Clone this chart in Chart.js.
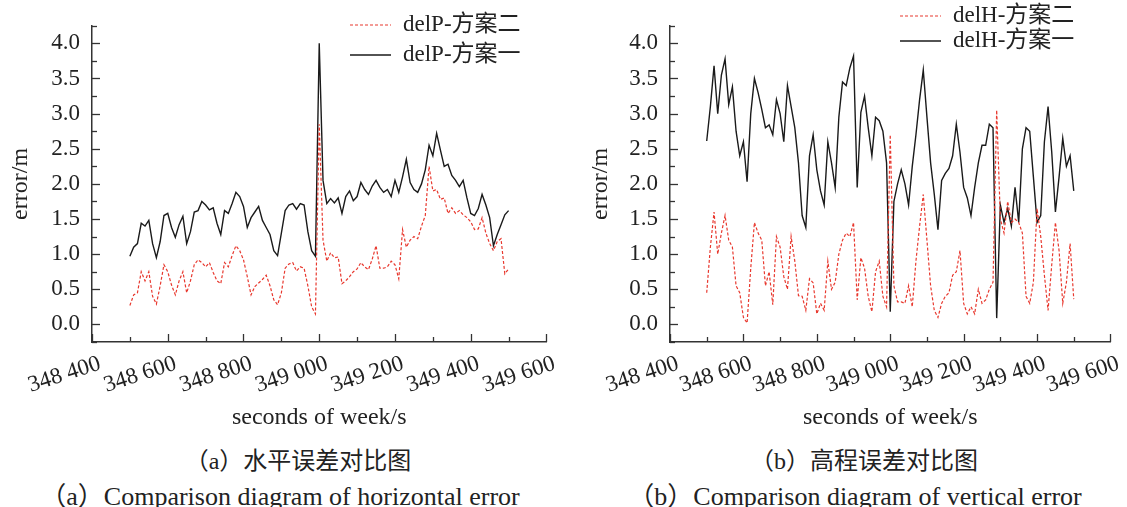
<!DOCTYPE html>
<html lang="zh">
<head>
  <meta charset="UTF-8" />
  <title>水平误差与高程误差对比图</title>
  <style>
    body { margin: 0; width: 1127px; height: 507px; background: #fff; position: relative; overflow: hidden;
           font-family: 'Liberation Serif', 'Noto Sans CJK SC', serif; color: #222; }
    canvas { position: absolute; top: 0; }
    #chartA { left: 0; }
    #chartB { left: 563px; }
    .cap { position: absolute; white-space: nowrap; transform: translate(-50%, -50%); }
    .zh { font-size: 24px; }
    .en { font-size: 26px; }
  </style>
</head>
<body>

<canvas id="chartA" width="563" height="432"></canvas>
<canvas id="chartB" width="564" height="432"></canvas>

<div class="cap zh" style="left:298px; top:458px;">（a）水平误差对比图</div>
<div class="cap en" style="left:280px; top:493px;">（a）Comparison diagram of horizontal error</div>
<div class="cap zh" style="left:864px; top:458px;">（b）高程误差对比图</div>
<div class="cap en" style="left:855px; top:493px;">（b）Comparison diagram of vertical error</div>

<script src="https://cdn.jsdelivr.net/npm/chart.js"></script>
<script>
// seconds of week, one sample every 10 s
const seconds = [];
for (let t = 348500; t <= 349500; t += 10) seconds.push(t);

// (a) horizontal error
const delP_scheme2 = [
  0.27, 0.42, 0.45, 0.75, 0.62, 0.75, 0.40, 0.29, 0.55, 0.85,
  0.75, 0.56, 0.42, 0.62, 0.75, 0.45, 0.62, 0.85, 0.92, 0.88,
  0.82, 0.88, 0.74, 0.62, 0.58, 0.88, 0.82, 0.98, 1.12, 1.05,
  0.92, 0.68, 0.42, 0.54, 0.59, 0.64, 0.70, 0.55, 0.35, 0.28,
  0.45, 0.80, 0.86, 0.88, 0.76, 0.82, 0.80, 0.55, 0.25, 0.15,
  2.85, 1.20, 0.90, 1.02, 0.95, 0.96, 0.58, 0.62, 0.68, 0.75,
  0.79, 0.88, 0.82, 0.78, 0.93, 1.12, 0.80, 0.80, 0.82, 0.90,
  0.85, 0.65, 1.35, 1.10, 1.20, 1.25, 1.22, 1.40, 1.55, 2.25,
  1.90, 1.92, 1.78, 1.80, 1.58, 1.66, 1.58, 1.62, 1.56, 1.52,
  1.46, 1.35, 1.36, 1.52, 1.30, 1.15, 1.05, 1.18, 1.22, 0.72,
  0.79
];
const delP_scheme1 = [
  0.97, 1.10, 1.15, 1.44, 1.40, 1.48, 1.15, 0.95, 1.18, 1.55,
  1.58, 1.38, 1.24, 1.42, 1.54, 1.15, 1.32, 1.60, 1.62, 1.75,
  1.70, 1.63, 1.66, 1.44, 1.28, 1.62, 1.58, 1.72, 1.88, 1.82,
  1.68, 1.38, 1.52, 1.60, 1.68, 1.48, 1.38, 1.28, 1.05, 0.98,
  1.30, 1.62, 1.70, 1.72, 1.64, 1.72, 1.70, 1.32, 1.05, 0.97,
  4.00, 2.05, 1.72, 1.79, 1.73, 1.80, 1.58, 1.82, 1.90, 1.76,
  1.82, 2.02, 1.92, 1.85, 1.97, 2.05, 1.95, 1.88, 1.92, 1.82,
  2.05, 1.88, 2.10, 2.35, 2.02, 1.92, 1.88, 2.00, 2.20, 2.55,
  2.40, 2.72, 2.48, 2.25, 2.28, 2.12, 2.05, 1.96, 2.05, 1.80,
  1.58, 1.55, 1.65, 1.85, 1.70, 1.52, 1.12, 1.28, 1.42, 1.56,
  1.62
];

// (b) vertical error
const delH_scheme2 = [
  0.45, 1.10, 1.60, 1.00, 1.30, 1.55, 1.20, 1.10, 0.55, 0.45,
  0.10, 0.02, 0.80, 1.45, 1.30, 1.20, 0.55, 0.75, 0.28, 1.25,
  1.10, 0.68, 0.50, 1.25, 0.90, 0.41, 0.40, 0.20, 0.65, 0.59,
  0.15, 0.30, 0.20, 0.90, 0.50, 0.60, 1.00, 1.20, 1.30, 1.25,
  1.45, 0.35, 0.95, 0.80, 0.40, 0.18, 0.75, 0.90, 0.40, 0.25,
  2.70, 0.55, 0.32, 0.32, 0.30, 0.55, 0.25, 0.90, 1.40, 1.85,
  1.20, 0.55, 0.20, 0.10, 0.30, 0.40, 0.45, 0.70, 0.75, 1.05,
  0.30, 0.15, 0.25, 0.15, 0.50, 0.30, 0.35, 0.50, 0.60, 3.05,
  1.50, 1.30, 1.75, 1.45, 1.50, 1.45, 1.30, 0.40, 0.30, 0.60,
  1.65, 1.25, 0.70, 0.20, 0.85, 1.45, 1.05, 0.30, 0.60, 1.15,
  0.36
];
const delH_scheme1 = [
  2.61, 3.10, 3.68, 3.00, 3.55, 3.78, 3.13, 3.38, 2.75, 2.40,
  2.60, 2.03, 3.00, 3.50, 3.30, 3.06, 2.80, 2.84, 2.70, 3.20,
  3.00, 2.60, 3.40, 3.10, 2.80, 2.30, 1.55, 1.38, 2.40, 2.70,
  2.20, 1.90, 1.70, 2.60, 2.30, 1.95, 2.95, 3.45, 3.40, 3.65,
  3.82, 1.95, 3.02, 3.25, 2.80, 2.40, 2.95, 2.90, 2.75, 2.30,
  0.18, 1.75, 2.00, 2.20, 2.00, 1.70, 2.25, 2.70, 3.20, 3.62,
  2.95, 2.30, 1.85, 1.35, 2.05, 2.15, 2.22, 2.40, 2.85, 2.45,
  1.95, 1.80, 1.55, 1.95, 2.30, 2.55, 2.55, 2.85, 2.80, 0.09,
  1.70, 1.45, 1.65, 1.40, 1.95, 1.45, 2.50, 2.80, 2.75, 2.10,
  1.45, 1.55, 2.60, 3.10, 2.45, 1.60, 2.10, 2.65, 2.25, 2.40,
  1.90
];

const xMin = 348400, xMax = 349600;
const yMin = -0.25, yMax = 4.25;

Chart.defaults.font.family = "'Liberation Serif', 'Noto Sans CJK SC', serif";
Chart.defaults.color = '#222';

function toPoints(values) {
  return values.map((v, i) => ({ x: seconds[i], y: v }));
}

function fmtSeconds(v) {
  const s = String(v);
  return s.slice(0, 3) + ' ' + s.slice(3);
}

// tick marks drawn inside the axes
const innerTicks = {
  id: 'innerTicks',
  afterDatasetsDraw(chart) {
    const ctx = chart.ctx;
    const { left, bottom } = chart.chartArea;
    const xs = chart.scales.x, ys = chart.scales.y;
    ctx.save();
    ctx.strokeStyle = '#333';
    ctx.lineWidth = 1.3;
    xs.ticks.forEach(t => {
      const x = Math.round(xs.getPixelForValue(t.value)) + 0.5;
      const len = t.value % 200 === 0 ? 8 : 5;
      ctx.beginPath(); ctx.moveTo(x, bottom); ctx.lineTo(x, bottom - len); ctx.stroke();
    });
    ys.ticks.forEach(t => {
      const y = Math.round(ys.getPixelForValue(t.value)) + 0.5;
      const len = Math.round(t.value * 4) % 2 === 0 ? 8 : 5;
      ctx.beginPath(); ctx.moveTo(left, y); ctx.lineTo(left + len, y); ctx.stroke();
    });
    ctx.restore();
  }
};

// legend in the upper right corner, one row per dataset
const cornerLegend = {
  id: 'cornerLegend',
  afterDraw(chart, args, opts) {
    const ctx = chart.ctx;
    ctx.save();
    ctx.font = "23px 'Liberation Serif', 'Noto Sans CJK SC', serif";
    ctx.textBaseline = 'middle';
    chart.data.datasets.forEach((ds, i) => {
      const y = opts.top + i * opts.rowGap;
      ctx.strokeStyle = ds.borderColor;
      ctx.lineWidth = ds.borderWidth;
      ctx.setLineDash(ds.borderDash || []);
      ctx.beginPath(); ctx.moveTo(opts.left, y); ctx.lineTo(opts.left + 41, y); ctx.stroke();
      ctx.setLineDash([]);
      ctx.fillStyle = '#222';
      ctx.fillText(ds.label, opts.left + 53, y);
    });
    ctx.restore();
  }
};

function makeChart(id, name, red, black, box) {
  return new Chart(document.getElementById(id), {
    type: 'line',
    data: {
      datasets: [
        { label: name + '-方案二', data: toPoints(red), borderColor: '#e8382e', borderWidth: 1.2,
          borderDash: [3, 2], pointRadius: 0, tension: 0 },
        { label: name + '-方案一', data: toPoints(black), borderColor: '#1a1a1a', borderWidth: 1.4,
          pointRadius: 0, tension: 0 }
      ]
    },
    plugins: [innerTicks, cornerLegend],
    options: {
      responsive: false,
      animation: false,
      layout: { padding: { top: 8, right: box.right, bottom: 0, left: 0 } },
      plugins: {
        legend: { display: false },
        tooltip: { enabled: false },
        cornerLegend: box.legend
      },
      scales: {
        x: {
          type: 'linear', min: xMin, max: xMax,
          afterFit(scale) { scale.height = 90; },
          grid: { display: false, drawTicks: false },
          border: { display: true, color: '#333', width: 1.5 },
          ticks: {
            stepSize: 100, maxTicksLimit: 20, autoSkip: false,
            minRotation: 18, maxRotation: 18, padding: 8, labelOffset: 8,
            font: { size: 23 },
            callback: v => (v % 200 === 0 ? fmtSeconds(v) : '')
          },
          title: { display: true, text: 'seconds of week/s', font: { size: 24 }, padding: { top: 0, bottom: 0 } }
        },
        y: {
          min: yMin, max: yMax,
          afterFit(scale) { scale.width = box.axisLeft; },
          grid: { display: false, drawTicks: false },
          border: { display: true, color: '#333', width: 1.5 },
          ticks: {
            stepSize: 0.25, maxTicksLimit: 30, autoSkip: false, padding: 12,
            font: { size: 23 },
            callback: v => {
              const q = Math.round(v * 4);
              return (q % 2 === 0 && q >= 0 && q <= 16) ? (q / 4).toFixed(1) : '';
            }
          },
          title: { display: true, text: 'error/m', font: { size: 24 }, padding: { top: box.titlePad, bottom: 0 } }
        }
      }
    }
  });
}

makeChart('chartA', 'delP', delP_scheme2, delP_scheme1,
  { axisLeft: 92, right: 15, titlePad: 6, legend: { left: 350, top: 25, rowGap: 30 } });
makeChart('chartB', 'delH', delH_scheme2, delH_scheme1,
  { axisLeft: 107, right: 1, titlePad: 23, legend: { left: 337, top: 16, rowGap: 25 } });
</script>

</body>
</html>
